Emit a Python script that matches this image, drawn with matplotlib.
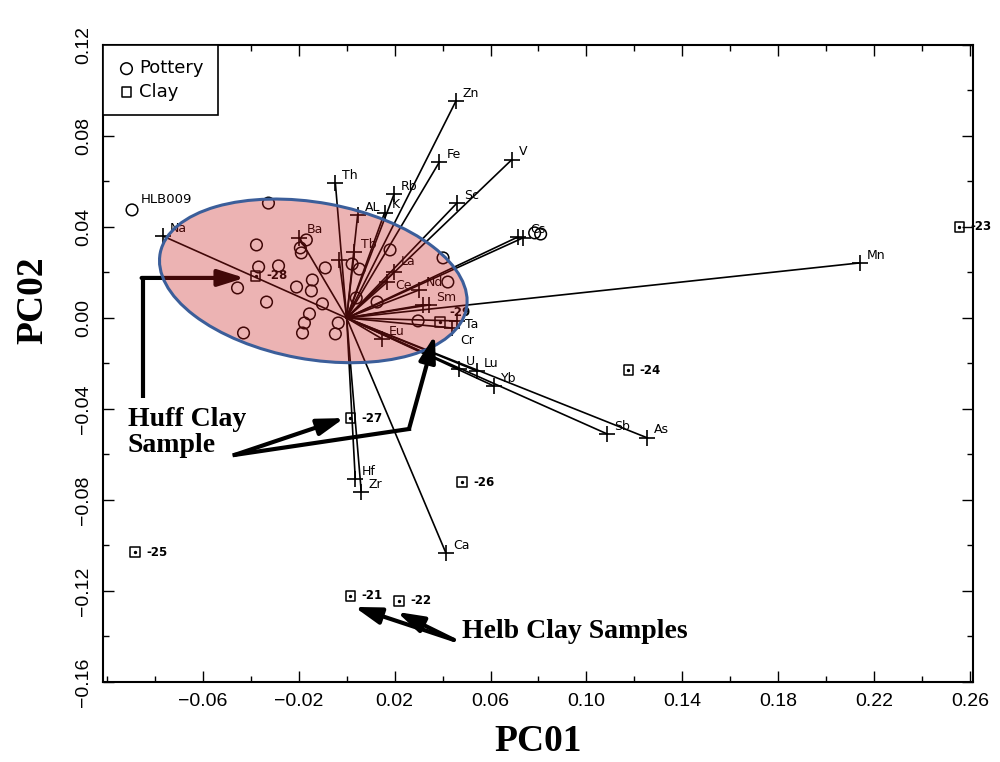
"""
PCA biplot of pottery and clay samples (PC01 vs PC02)
"""

import matplotlib.pyplot as plt
import numpy as np
from matplotlib.patches import Ellipse
from matplotlib.ticker import MultipleLocator

# element loadings (tips of the vectors)
element_names = ['Zn', 'Fe', 'V', 'Th', 'Rb', 'AL', 'K', 'Sc', '', 'Cs',
                 'Mn', 'Na', 'Ba', 'Tb', '', 'La', 'Ce', 'Nd', '', 'Sm',
                 'Ta', 'Cr', 'Eu', 'U', 'Lu', 'Yb', 'Sb', 'As', 'Hf', 'Zr', 'Ca']
element_pc1 = [0.0456, 0.0387, 0.0688, -0.0047, 0.0198, 0.0046, 0.0158, 0.0460, 0.0714, 0.0735,
               0.2139, -0.0766, -0.0197, 0.0032, -0.0031, 0.0198, 0.0169, 0.0302, 0.0318, 0.0343,
               0.0460, 0.0439, 0.0148, 0.0468, 0.0543, 0.0614, 0.1087, 0.1254, 0.0036, 0.0061, 0.0414]
element_pc2 = [0.0954, 0.0686, 0.0695, 0.0593, 0.0545, 0.0453, 0.0462, 0.0505, 0.0356, 0.0352,
               0.0242, 0.0360, 0.0352, 0.0290, 0.0255, 0.0202, 0.0158, 0.0123, 0.0057, 0.0057,
               -0.0013, -0.0044, -0.0092, -0.0224, -0.0233, -0.0299, -0.0510, -0.0527, -0.0708, -0.0765, -0.1033]

# pottery scores
pottery_pc1 = [-0.0326, -0.0376, -0.0168, -0.0193, -0.0189, -0.0367, -0.0284, -0.0089, -0.0455, -0.0334,
               -0.0209, -0.0143, -0.0147, -0.0101, -0.0155, -0.0176, -0.0184, -0.0035, -0.0047, -0.0430,
               0.0023, 0.0053, 0.0181, 0.0402, 0.0422, 0.0298, 0.0127, 0.0040, -0.0895, 0.0784, 0.0809]
pottery_pc2 = [0.0505, 0.0321, 0.0343, 0.0308, 0.0286, 0.0224, 0.0229, 0.0220, 0.0132, 0.0070,
               0.0136, 0.0167, 0.0119, 0.0062, 0.0018, -0.0022, -0.0066, -0.0022, -0.0070, -0.0066,
               0.0237, 0.0215, 0.0299, 0.0264, 0.0158, -0.0013, 0.0070, 0.0088, 0.0475, 0.0374, 0.0369]

# clay scores
clay_names = ['-23', '-24', '-25', '-26', '-27', '-21', '-22', '-28', '-29']
clay_pc1 = [0.2555, 0.1175, -0.0883, 0.0481, 0.0015, 0.0015, 0.0219, -0.0380, 0.0389]
clay_pc2 = [0.0400, -0.0229, -0.1029, -0.0721, -0.0440, -0.1222, -0.1244, 0.0185, -0.0018]

x_ticks = [-0.06, -0.02, 0.02, 0.06, 0.10, 0.14, 0.18, 0.22, 0.26]
y_ticks = [-0.16, -0.12, -0.08, -0.04, 0.00, 0.04, 0.08, 0.12]

# a few labels sit elsewhere to keep them apart (offset points)
label_offsets = {'Ta': (6, -7), 'Cr': (6, -14), '-29': (7, 7),
                 'La': (5, 3), 'Ce': (6, -7)}


def fmt(v):
    return f'{v:.2f}'.replace('-', '\u2212')


fig = plt.figure(figsize=(10, 7.62), dpi=100)
ax = fig.add_axes([0.103, 0.105, 0.870, 0.836])

# vectors from the origin
for name, x, y in zip(element_names, element_pc1, element_pc2):
    ax.plot([0, x], [0, y], color='black', lw=1.2, zorder=2)
    ax.plot(x, y, marker='+', ms=11, mew=1.2, color='black', zorder=3)
    if name:
        ax.annotate(name, (x, y), xytext=label_offsets.get(name, (5, 1)),
                    textcoords='offset points', fontsize=9, family='DejaVu Sans',
                    va='bottom', zorder=3)

ax.scatter(pottery_pc1, pottery_pc2, s=70, facecolors='none', edgecolors='black',
           linewidths=1.1, zorder=3, label='Pottery')
ax.scatter(clay_pc1, clay_pc2, s=45, marker='s', facecolors='none', edgecolors='black',
           linewidths=1.1, zorder=3, label='Clay')
ax.scatter(clay_pc1, clay_pc2, s=2, color='black', zorder=3)
for name, x, y in zip(clay_names, clay_pc1, clay_pc2):
    ax.annotate(name, (x, y), xytext=label_offsets.get(name, (8, 0)),
                textcoords='offset points', fontsize=8.5, fontweight='bold',
                va='center', zorder=3, annotation_clip=False)
ax.annotate('HLB009', (pottery_pc1[28], pottery_pc2[28]), xytext=(6, 5),
            textcoords='offset points', fontsize=9.5, zorder=3)

# Huff clay highlight
ax.add_patch(Ellipse((-0.0139, 0.0163), 0.130, 0.0688, angle=-11,
                     facecolor=(0.78, 0.1, 0.1), alpha=0.33, edgecolor='none', zorder=4))
ax.add_patch(Ellipse((-0.0139, 0.0163), 0.130, 0.0688, angle=-11,
                     facecolor='none', edgecolor='#3b5e9a', lw=2.2, zorder=5))

# annotation arrows
arrow = dict(arrowstyle='-|>,head_length=1.6,head_width=0.5', color='black', lw=3,
             shrinkA=0, shrinkB=0)
ax.plot([-0.0849, -0.0849], [-0.0352, 0.0176], color='black', lw=3, zorder=3,
        solid_capstyle='butt')
ax.annotate('', xy=(-0.0425, 0.0176), xytext=(-0.0855, 0.0176), arrowprops=arrow, zorder=3)
ax.plot([-0.0467, 0.0260], [-0.0602, -0.0488], color='black', lw=3, zorder=6)
ax.annotate('', xy=(0.0368, -0.0075), xytext=(0.0260, -0.0488), arrowprops=arrow, zorder=6)
ax.annotate('', xy=(-0.0010, -0.0440), xytext=(-0.0467, -0.0602), arrowprops=arrow, zorder=6)
ax.text(-0.0912, -0.0505, 'Huff Clay\nSample', fontsize=20, fontweight='bold',
        family='Liberation Serif', va='center', ha='left', linespacing=1.05, zorder=6)

ax.annotate('', xy=(0.0032, -0.1270), xytext=(0.0447, -0.1415), arrowprops=arrow, zorder=6)
ax.annotate('', xy=(0.0210, -0.1292), xytext=(0.0447, -0.1415), arrowprops=arrow, zorder=6)
ax.text(0.0480, -0.1380, 'Helb Clay Samples', fontsize=20, fontweight='bold',
        family='Liberation Serif', va='center', ha='left', zorder=6)

ax.set_xlim(-0.1016, 0.2612)
ax.set_ylim(-0.16, 0.12)
ax.set_xticks(x_ticks, labels=[fmt(v) for v in x_ticks])
ax.set_yticks(y_ticks, labels=[fmt(v) for v in y_ticks])
ax.xaxis.set_minor_locator(MultipleLocator(0.02))
ax.yaxis.set_minor_locator(MultipleLocator(0.02))
ax.tick_params(which='both', direction='in', top=True, right=True, labelsize=14, pad=8)
ax.tick_params(which='major', length=8, width=1)
ax.tick_params(which='minor', length=4, width=1)
for lab in ax.get_yticklabels():
    lab.set_rotation(90)
    lab.set_va('center')
for lab in ax.get_xticklabels() + ax.get_yticklabels():
    lab.set_family('Liberation Sans')
for spine in ax.spines.values():
    spine.set_linewidth(1.5)

ax.set_xlabel('PC01', fontsize=27, fontweight='bold', family='Liberation Serif')
ax.set_ylabel('PC02', fontsize=27, fontweight='bold', family='Liberation Serif')
ax.xaxis.set_label_coords(0.5, -0.066)
ax.yaxis.set_label_coords(-0.061, 0.60)

leg = ax.legend(loc='upper left', borderaxespad=0, fancybox=False, edgecolor='black',
                framealpha=1, fontsize=13, handletextpad=0.2, handlelength=1.0,
                borderpad=0.8, labelspacing=0.3)
leg.get_frame().set_linewidth(1.2)
leg.set_zorder(7)

fig.savefig('out.png', dpi=100)
